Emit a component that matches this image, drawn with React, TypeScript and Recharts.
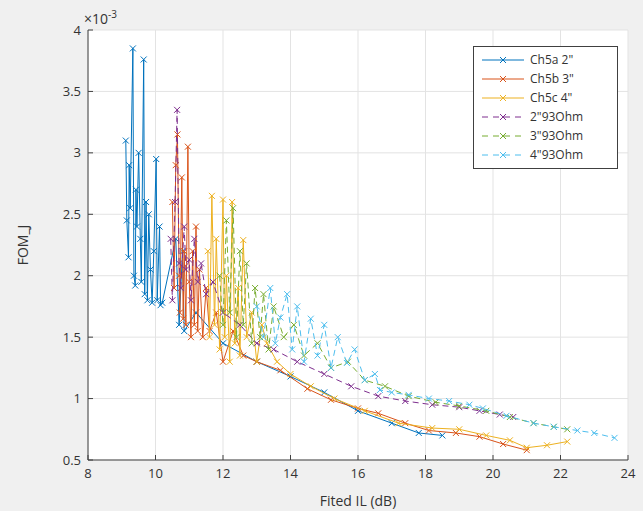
import { ScatterChart, Scatter, XAxis, YAxis, CartesianGrid } from "recharts";

// FOM_J values are stored in units of 1e-3 (the axis shows the ×10^-3 multiplier)
const ch5a2: [number, number][] = [
  [9.12, 3.1], [9.15, 2.45], [9.2, 2.15], [9.22, 2.9], [9.25, 2.55], [9.33, 3.85], [9.36, 2.0],
  [9.4, 1.92], [9.42, 2.7], [9.45, 2.4], [9.5, 3.0], [9.55, 2.3], [9.58, 1.95], [9.65, 3.76],
  [9.68, 1.85], [9.72, 2.6], [9.76, 1.8], [9.8, 2.5], [9.85, 2.05], [9.9, 1.78], [9.95, 2.2],
  [10.02, 2.95], [10.05, 1.8], [10.12, 2.4], [10.15, 1.76], [10.2, 1.78], [10.6, 2.3], [10.7, 1.6],
  [10.8, 2.2], [10.85, 1.55], [11.2, 1.7], [12.0, 1.45], [13.0, 1.3], [14.0, 1.18], [15.0, 1.05],
  [16.0, 0.9], [17.0, 0.8], [17.8, 0.72], [18.5, 0.7],
];
const ch5b3: [number, number][] = [
  [10.5, 2.6], [10.55, 1.9], [10.6, 2.9], [10.65, 3.15], [10.7, 2.0], [10.72, 1.7], [10.78, 2.8],
  [10.82, 1.65], [10.85, 2.2], [10.9, 1.6], [10.96, 3.05], [11.0, 1.95], [11.05, 1.5], [11.1, 2.2],
  [11.15, 1.6], [11.2, 2.4], [11.25, 1.55], [11.3, 2.05], [11.4, 1.5], [11.5, 1.9], [11.6, 1.55],
  [11.8, 1.7], [12.0, 1.3], [12.3, 1.55], [12.6, 1.35], [13.0, 1.3], [13.7, 1.23], [14.5, 1.08],
  [15.2, 0.99], [16.0, 0.92], [16.6, 0.88], [17.4, 0.8], [18.1, 0.74], [18.9, 0.72], [19.6, 0.69],
  [20.3, 0.63], [21.0, 0.58],
];
const ch5c4: [number, number][] = [
  [11.55, 2.2], [11.6, 1.5], [11.67, 2.65], [11.75, 1.6], [11.8, 2.3], [11.9, 1.4], [12.0, 2.62],
  [12.05, 1.5], [12.1, 2.0], [12.2, 1.3], [12.27, 2.6], [12.35, 1.45], [12.45, 1.9], [12.5, 1.35],
  [12.6, 2.29], [12.7, 1.5], [12.85, 1.7], [13.0, 1.3], [13.15, 1.6], [13.3, 1.45], [13.6, 1.3],
  [14.0, 1.2], [14.6, 1.1], [15.3, 1.0], [16.2, 0.9], [17.2, 0.8], [18.2, 0.76], [19.0, 0.75],
  [19.8, 0.7], [20.5, 0.66], [21.0, 0.6], [21.6, 0.62], [22.2, 0.65],
];
const ohm2: [number, number][] = [
  [10.45, 2.3], [10.5, 1.8], [10.58, 2.6], [10.64, 3.35], [10.7, 2.1], [10.75, 1.9], [10.85, 2.4],
  [10.9, 2.05], [11.0, 2.13], [11.05, 1.8], [11.15, 2.3], [11.25, 1.95], [11.35, 2.1], [11.5, 1.85],
  [11.7, 1.95], [12.0, 1.7], [12.5, 1.6], [13.0, 1.45], [13.5, 1.4], [14.2, 1.3], [15.0, 1.2],
  [15.8, 1.1], [16.6, 1.02], [17.4, 0.98], [18.2, 0.95], [19.0, 0.93], [19.6, 0.9], [20.2, 0.87],
  [20.6, 0.85],
];
const ohm3: [number, number][] = [
  [11.9, 2.0], [12.0, 1.6], [12.1, 2.45], [12.2, 1.7], [12.3, 2.55], [12.4, 1.5], [12.5, 2.2],
  [12.6, 1.6], [12.7, 2.1], [12.85, 1.45], [12.95, 1.9], [13.1, 1.5], [13.2, 1.85], [13.35, 1.4],
  [13.5, 1.75], [13.8, 1.5], [14.1, 1.6], [14.4, 1.35], [14.8, 1.45], [15.2, 1.25], [15.7, 1.3],
  [16.2, 1.15], [16.8, 1.1], [17.5, 1.02], [18.3, 0.97], [19.0, 0.94], [19.8, 0.9], [20.5, 0.85],
  [21.2, 0.8], [21.8, 0.77], [22.2, 0.75],
];
const ohm4: [number, number][] = [
  [13.0, 1.75], [13.2, 1.5], [13.4, 1.9], [13.55, 1.45], [13.7, 1.66], [13.9, 1.85], [14.05, 1.4],
  [14.2, 1.75], [14.4, 1.3], [14.6, 1.65], [14.8, 1.35], [15.0, 1.6], [15.2, 1.25], [15.4, 1.5],
  [15.67, 1.29], [15.9, 1.4], [16.2, 1.15], [16.5, 1.2], [16.65, 1.07], [17.0, 1.05], [17.5, 1.03],
  [18.1, 1.0], [18.7, 0.98], [19.3, 0.95], [19.7, 0.92], [20.4, 0.86], [21.2, 0.8], [21.8, 0.77],
  [22.5, 0.74], [23.0, 0.72], [23.6, 0.68],
];

const xTicks = [8, 10, 12, 14, 16, 18, 20, 22, 24];
const yTicks = [0.5, 1, 1.5, 2, 2.5, 3, 3.5, 4];

const series = [
  { name: 'Ch5a 2"', data: ch5a2, color: "#0072BD", dashed: false },
  { name: 'Ch5b 3"', data: ch5b3, color: "#D95319", dashed: false },
  { name: 'Ch5c 4"', data: ch5c4, color: "#EDB120", dashed: false },
  { name: '2"93Ohm', data: ohm2, color: "#7E2F8E", dashed: true },
  { name: '3"93Ohm', data: ohm3, color: "#77AC30", dashed: true },
  { name: '4"93Ohm', data: ohm4, color: "#4DBEEE", dashed: true },
];

const FONT = "'Open Sans', 'DejaVu Sans', sans-serif";
const AXIS = "#404040";

function cross(color: string) {
  return (props: any) => {
    const { cx, cy } = props;
    if (cx == null || cy == null) return <g />;
    const s = 3;
    return (
      <path
        d={`M${cx - s},${cy - s}L${cx + s},${cy + s}M${cx + s},${cy - s}L${cx - s},${cy + s}`}
        stroke={color}
        strokeWidth={1}
        fill="none"
      />
    );
  };
}

function Legend() {
  return (
    <div
      style={{
        position: "absolute",
        left: 473,
        top: 46,
        width: 143,
        padding: "3px 0 4px",
        background: "#fff",
        border: `1px solid ${AXIS}`,
        fontFamily: FONT,
        fontSize: 12,
        color: "#333",
      }}
    >
      {series.map((s) => (
        <div key={s.name} style={{ display: "flex", alignItems: "center", height: 19 }}>
          <svg width={46} height={12} style={{ marginLeft: 6, marginRight: 4 }}>
            <line
              x1={2}
              y1={6}
              x2={44}
              y2={6}
              stroke={s.color}
              strokeWidth={1}
              strokeDasharray={s.dashed ? "6 5" : undefined}
            />
            <path d="M20,3L26,9M26,3L20,9" stroke={s.color} strokeWidth={1} />
          </svg>
          <span>{s.name}</span>
        </div>
      ))}
    </div>
  );
}

export default function App() {
  return (
    <div
      style={{
        position: "absolute",
        left: 0,
        top: 0,
        width: 643,
        height: 511,
        background: "#f0f0f0",
        fontFamily: FONT,
      }}
    >
      <ScatterChart
        width={643}
        height={511}
        margin={{ top: 30, right: 15, bottom: 21, left: 48 }}
      >
        <CartesianGrid fill="#ffffff" stroke="#e3e3e3" strokeWidth={1} />
        <XAxis
          type="number"
          dataKey="x"
          domain={[8, 24]}
          ticks={xTicks}
          allowDataOverflow
          height={30}
          tickSize={-5}
          tickMargin={14}
          tick={{ fill: "#333", fontSize: 13, fontFamily: FONT }}
          stroke={AXIS}
        />
        <XAxis
          xAxisId="top"
          orientation="top"
          type="number"
          domain={[8, 24]}
          ticks={xTicks}
          height={0}
          tickSize={-5}
          tickFormatter={() => ""}
          stroke={AXIS}
        />
        <YAxis
          type="number"
          dataKey="y"
          domain={[0.5, 4]}
          ticks={yTicks}
          allowDataOverflow
          width={40}
          tickSize={-5}
          tickMargin={12}
          tick={{ fill: "#333", fontSize: 13, fontFamily: FONT }}
          stroke={AXIS}
        />
        <YAxis
          yAxisId="right"
          orientation="right"
          type="number"
          domain={[0.5, 4]}
          ticks={yTicks}
          width={0}
          tickSize={-5}
          tickFormatter={() => ""}
          stroke={AXIS}
        />
        {series.map((s) => (
          <Scatter
            key={s.name}
            name={s.name}
            data={s.data.map(([x, y]) => ({ x, y }))}
            fill={s.color}
            line={{
              stroke: s.color,
              strokeWidth: 1,
              strokeDasharray: s.dashed ? "6 4" : undefined,
            }}
            lineType="joint"
            shape={cross(s.color)}
            isAnimationActive={false}
          />
        ))}
      </ScatterChart>
      <div style={{ position: "absolute", left: 84, top: 7, fontSize: 14, color: "#333" }}>
        ×10<sup style={{ fontSize: 10 }}>-3</sup>
      </div>
      <div
        style={{
          position: "absolute",
          left: 22,
          top: 245,
          transform: "translate(-50%, -50%) rotate(-90deg)",
          fontSize: 14,
          color: "#333",
        }}
      >
        FOM_J
      </div>
      <div
        style={{
          position: "absolute",
          left: 358,
          top: 491,
          transform: "translateX(-50%)",
          fontSize: 14,
          color: "#333",
          whiteSpace: "nowrap",
        }}
      >
        Fited IL (dB)
      </div>
      <Legend />
    </div>
  );
}
